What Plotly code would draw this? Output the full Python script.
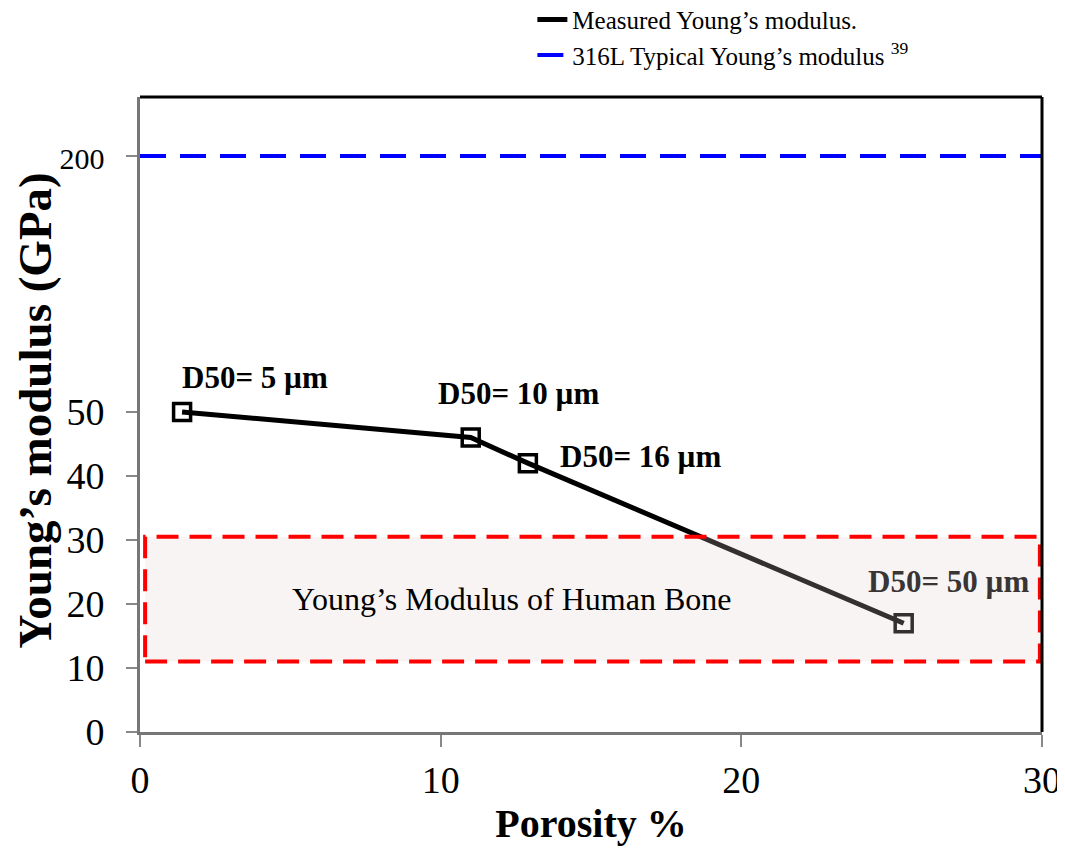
import plotly.graph_objects as go

# ---- data ----
porosity = [1.4, 11.0, 12.9, 25.4]
modulus = [50, 46, 42, 17]
d50_labels = ["D50= 5 µm", "D50= 10 µm", "D50= 16 µm", "D50= 50 µm"]
typical_316L = 200
bone_range = [11, 30.5]
x_ticks = [0, 10, 20, 30]
y_ticks_low = [0, 10, 20, 30, 40, 50]
y_tick_high = 200

# broken-axis mapping: 0-50 linear, 50-200 compressed
BREAK = 50
UPPER_SPAN = 40  # plot units used for 50..200


def yb(v):
    if v <= BREAK:
        return v
    return BREAK + (v - BREAK) * UPPER_SPAN / (y_tick_high - BREAK)


FONT = "Liberation Serif"

fig = go.Figure()

fig.add_trace(go.Scatter(
    x=porosity, y=[yb(v) for v in modulus], mode="lines",
    line=dict(color="black", width=5),
    name="Measured Young’s modulus.", showlegend=True))

fig.add_trace(go.Scatter(
    x=[0, 30], y=[yb(typical_316L)] * 2, mode="lines",
    line=dict(color="#0000ff", width=4, dash="26px,14px"),
    name="316L Typical Young’s modulus <sup>39</sup>", showlegend=True))

fig.add_trace(go.Scatter(
    x=porosity, y=[yb(v) for v in modulus], mode="markers",
    marker=dict(symbol="square-open", size=17, color="black",
                line=dict(width=3.5, color="black")),
    showlegend=False, hoverinfo="skip"))

# bone range box (drawn above the line, semi-transparent)
fig.add_shape(type="rect", xref="x", yref="y",
              x0=0.17, x1=29.93, y0=bone_range[0], y1=bone_range[1],
              line=dict(color="#ff0000", width=4, dash="22px,11px"),
              fillcolor="rgba(229,206,206,0.23)", layer="above")

# top / right frame
fig.add_shape(type="line", xref="paper", yref="paper", x0=0, x1=1, y0=1, y1=1,
              line=dict(color="black", width=3))
fig.add_shape(type="line", xref="paper", yref="paper", x0=1, x1=1, y0=0, y1=1,
              line=dict(color="black", width=3))

shifts = [(73, 34), (48, 44), (113, 7), (45, 42)]
colors = ["black", "black", "black", "#3a3535"]
for xv, yv, lab, (dx, dy), c in zip(porosity, modulus, d50_labels, shifts, colors):
    fig.add_annotation(x=xv, y=yb(yv), text=f"<b>{lab}</b>", showarrow=False,
                       xshift=dx, yshift=dy, xanchor="center", yanchor="middle",
                       font=dict(family=FONT, size=31, color=c))

fig.add_annotation(x=12.37, y=20.8, text="Young’s Modulus of Human Bone",
                   showarrow=False, font=dict(family=FONT, size=32, color="black"))

# y-axis title placed as a rotated annotation
fig.add_annotation(xref="paper", yref="paper", x=-0.116, y=0.507,
                   xanchor="center", yanchor="middle", textangle=-90,
                   text="<b>Young’s modulus (GPa)</b>", showarrow=False,
                   borderpad=0,
                   font=dict(family=FONT, size=47, color="black"))

# the page body adds an 8px margin, so the figure is smaller to fit the window
fig.update_layout(
    width=1057, height=838,
    margin=dict(l=132, r=23, t=89, b=114, autoexpand=False),
    paper_bgcolor="white", plot_bgcolor="white",
    font=dict(family=FONT, color="black"),
    legend=dict(x=0.435, y=1.158, xanchor="left", yanchor="top",
                font=dict(family=FONT, size=25, color="black"),
                bgcolor="rgba(0,0,0,0)", tracegroupgap=0),
    xaxis=dict(range=[0, 30], tickvals=x_ticks, ticks="outside", ticklen=12,
               tickcolor="#888888", tickwidth=2,
               showline=True, linecolor="#777777", linewidth=3,
               showgrid=False, zeroline=False, automargin=False,
               tickfont=dict(family=FONT, size=38),
               title=dict(text="<b>Porosity %</b>", standoff=10,
                          font=dict(family=FONT, size=40))),
    yaxis=dict(range=[0, 99.2],
               tickvals=y_ticks_low + [yb(y_tick_high)],
               ticktext=[str(v) for v in y_ticks_low] + [
                   f"<span style='font-size:30px'>{y_tick_high}</span>"],
               ticks="outside", ticklen=11, tickcolor="#888888", tickwidth=2,
               ticklabelstandoff=14,
               showline=True, linecolor="#777777", linewidth=3,
               showgrid=False, zeroline=False, automargin=False,
               tickfont=dict(family=FONT, size=38)),
)

fig.write_html("out.html")
